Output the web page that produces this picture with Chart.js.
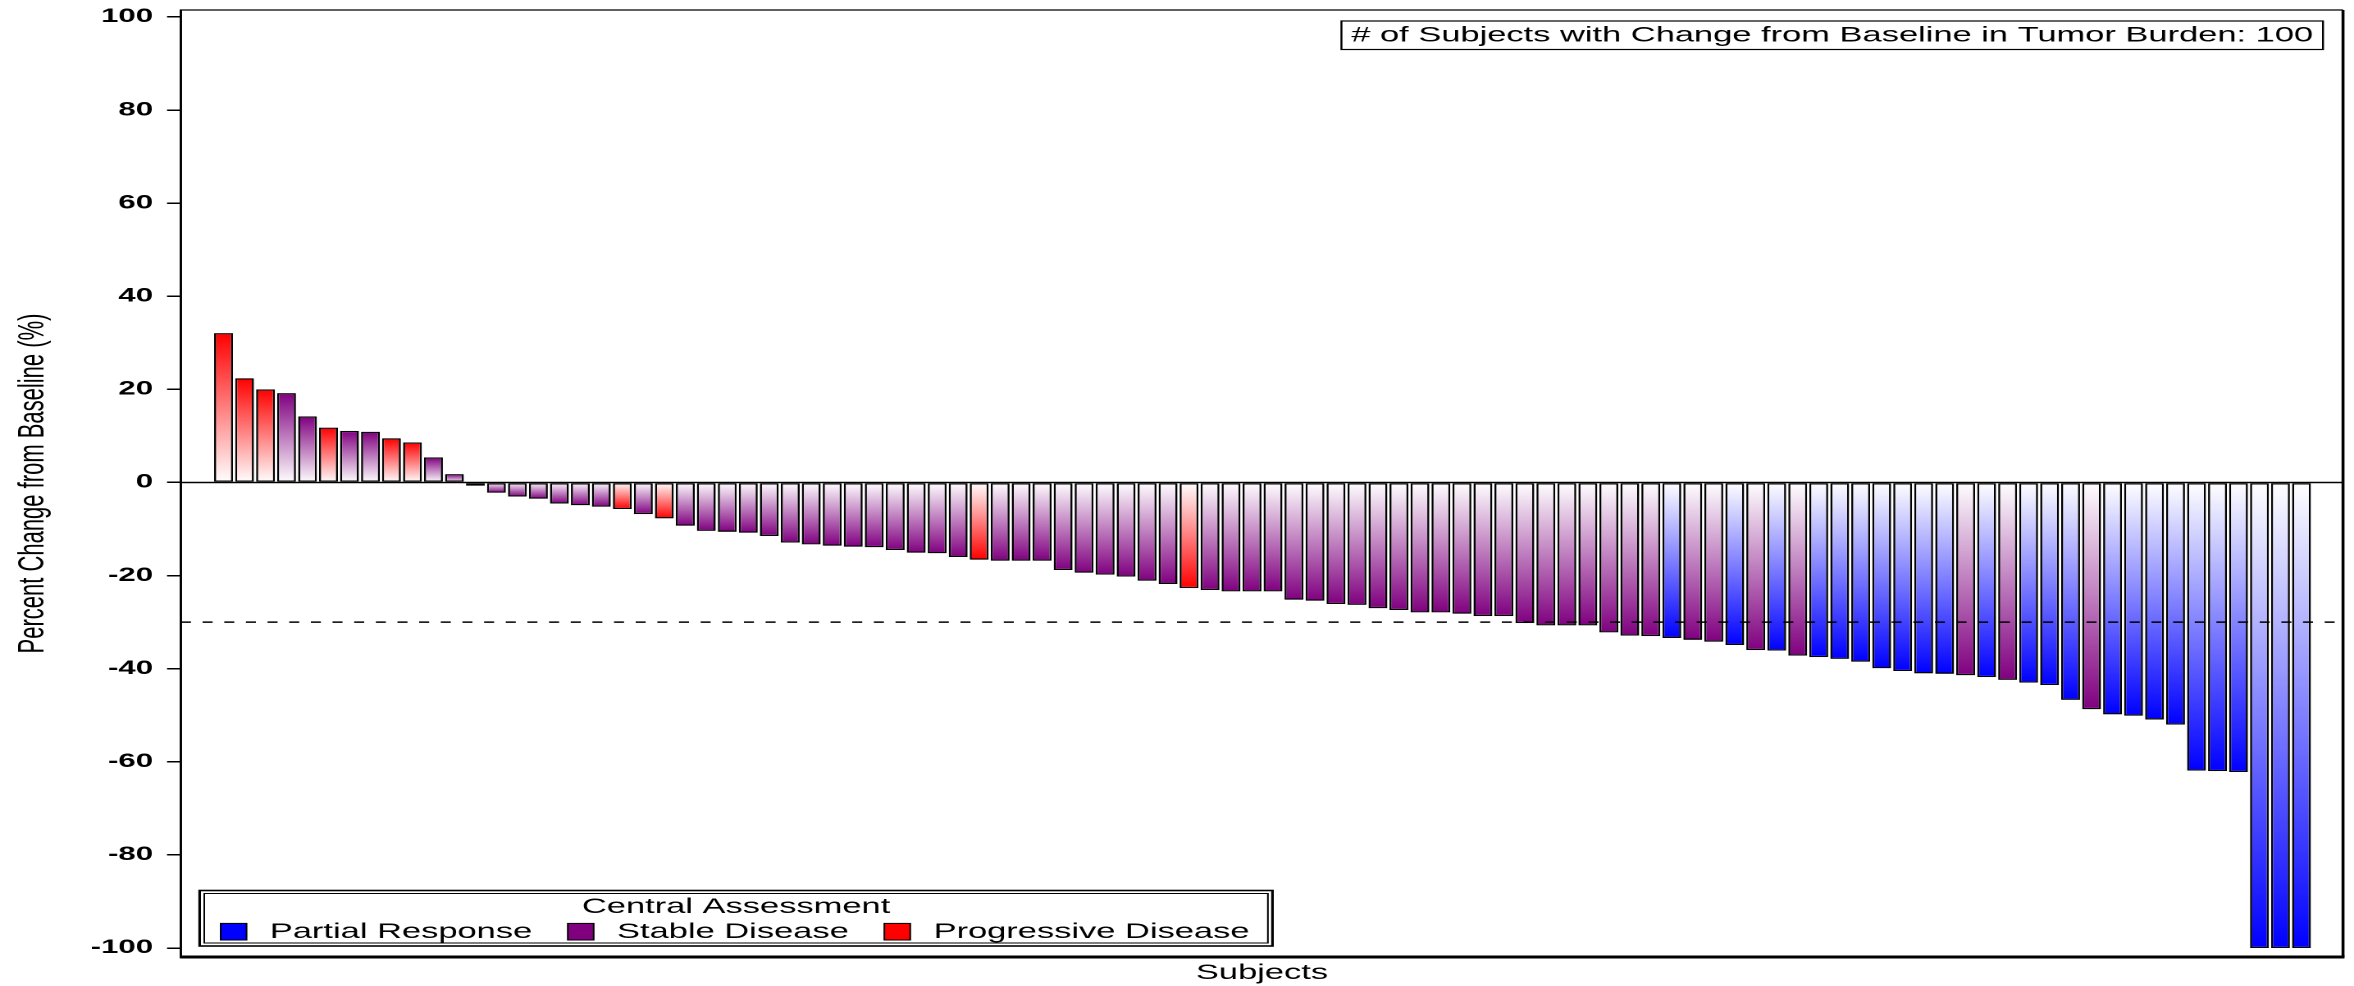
<!DOCTYPE html>
<html>
<head>
<meta charset="utf-8">
<script src="https://cdn.jsdelivr.net/npm/chart.js@4.4.1/dist/chart.umd.min.js"></script>
<style>
  html, body { margin: 0; padding: 0; background: #fff; overflow: hidden; }
  /* the plot is laid out on a narrower canvas and widened horizontally */
  #wrap { width: 1435px; height: 986px; transform: scaleX(1.640418); transform-origin: 0 0; }
  canvas { display: block; }
</style>
</head>
<body>
<div id="wrap"><canvas id="waterfall" width="1435" height="986" style="width:1435px;height:986px"></canvas></div>
<script>
// Subjects ordered by best percent change from baseline in tumor burden
const subjects = Array.from({ length: 100 }, (_, i) => i + 1);

const pctChange = [
  32.1, 22.4, 20.0, 19.2, 14.2, 11.8, 11.1, 10.9, 9.5, 8.6,
  5.4, 1.8, -0.7, -2.2, -3.0, -3.5, -4.5, -4.9, -5.2, -5.7,
  -6.8, -7.7, -9.3, -10.4, -10.6, -10.8, -11.5, -12.9, -13.3, -13.6,
  -13.8, -13.9, -14.5, -15.1, -15.2, -16.0, -16.6, -16.8, -16.8, -16.8,
  -18.8, -19.4, -19.8, -20.2, -21.1, -21.8, -22.7, -23.1, -23.4, -23.4,
  -23.4, -25.2, -25.4, -26.1, -26.3, -27.0, -27.4, -27.9, -27.9, -28.2,
  -28.7, -28.7, -30.2, -30.7, -30.7, -30.7, -32.2, -32.9, -33.0, -33.4,
  -33.8, -34.2, -34.9, -36.0, -36.1, -37.2, -37.5, -37.9, -38.5, -39.9,
  -40.5, -41.0, -41.1, -41.4, -41.8, -42.4, -43.0, -43.5, -46.7, -48.7,
  -49.8, -50.1, -50.9, -52.0, -61.9, -62.0, -62.2, -100, -100, -100
];

// Central assessment of best overall response per subject
const responses = [
  'PD','PD','PD','SD','SD','PD','SD','SD','PD','PD',
  'SD','SD','SD','SD','SD','SD','SD','SD','SD','PD',
  'SD','PD','SD','SD','SD','SD','SD','SD','SD','SD',
  'SD','SD','SD','SD','SD','SD','PD','SD','SD','SD',
  'SD','SD','SD','SD','SD','SD','PD','SD','SD','SD',
  'SD','SD','SD','SD','SD','SD','SD','SD','SD','SD',
  'SD','SD','SD','SD','SD','SD','SD','SD','SD','PR',
  'SD','SD','PR','SD','PR','SD','PR','PR','PR','PR',
  'PR','PR','PR','SD','PR','SD','PR','PR','PR','SD',
  'PR','PR','PR','PR','PR','PR','PR','PR','PR','PR'
];

const legendOrder = ['PR', 'SD', 'PD'];
const responseLabels = { PR: 'Partial Response', SD: 'Stable Disease', PD: 'Progressive Disease' };
const responseColors = { PR: '#0000ff', SD: '#800080', PD: '#ff0000' };
const legendTitle = 'Central Assessment';
const countText = '# of Subjects with Change from Baseline in Tumor Burden: ' + subjects.length;

const yTicks = [-100, -80, -60, -40, -20, 0, 20, 40, 60, 80, 100];
const prThreshold = -30;

const FONT = "'Liberation Sans', Arial, Helvetica, sans-serif";

// each bar fades from white at the baseline to its response colour at the tip
function barFill(ctx) {
  const code = responses[ctx.dataIndex];
  const color = responseColors[code] || '#800080';
  const chart = ctx.chart;
  const y = chart.scales && chart.scales.y;
  if (ctx.type !== 'data' || !y) return color;
  const v = ctx.raw.y;
  const y0 = y.getPixelForValue(0);
  const y1 = y.getPixelForValue(v);
  if (!isFinite(y0) || !isFinite(y1) || Math.abs(y1 - y0) < 0.5) return color;
  const g = chart.ctx.createLinearGradient(0, y0, 0, y1);
  g.addColorStop(0, '#ffffff');
  g.addColorStop(1, color);
  return g;
}

const overlay = {
  id: 'overlay',
  beforeDatasetsDraw(chart) {
    const { ctx, chartArea: a, scales: { y } } = chart;
    const y0 = y.getPixelForValue(0);
    ctx.save();
    ctx.strokeStyle = '#000';
    ctx.lineWidth = 1.5;
    ctx.beginPath();
    ctx.moveTo(a.left, y0);
    ctx.lineTo(a.right, y0);
    ctx.stroke();
    ctx.restore();
  },
  afterDatasetsDraw(chart) {
    const { ctx, chartArea: a, scales: { y } } = chart;
    const yt = y.getPixelForValue(prThreshold);
    ctx.save();
    ctx.strokeStyle = '#000';
    ctx.lineWidth = 1.5;
    ctx.setLineDash([6.1, 7.1]);
    ctx.beginPath();
    ctx.moveTo(a.left, yt);
    ctx.lineTo(a.right, yt);
    ctx.stroke();
    ctx.restore();
  },
  afterDraw(chart) {
    const { ctx, chartArea: a } = chart;
    ctx.save();
    ctx.strokeStyle = '#000';

    // plot frame
    ctx.lineWidth = 1.3;
    ctx.beginPath();
    ctx.moveTo(a.left, a.bottom);
    ctx.lineTo(a.left, a.top);
    ctx.lineTo(a.right, a.top);
    ctx.stroke();
    ctx.lineWidth = 1.8;
    ctx.beginPath();
    ctx.moveTo(a.right, a.top);
    ctx.lineTo(a.right, a.bottom);
    ctx.stroke();
    ctx.lineWidth = 3;
    ctx.beginPath();
    ctx.moveTo(a.left - 0.6, a.bottom);
    ctx.lineTo(a.right + 0.9, a.bottom);
    ctx.stroke();

    // subject count box, top right
    ctx.font = '21px ' + FONT;
    ctx.fillStyle = '#000';
    ctx.textBaseline = 'middle';
    ctx.textAlign = 'center';
    const tw = ctx.measureText(countText).width;
    const bw = tw + 12, bh = 28.5;
    const bx = a.right - 12.2 - bw, by = a.top + 11;
    ctx.fillStyle = '#fff';
    ctx.fillRect(bx, by, bw, bh);
    ctx.fillStyle = '#000';
    ctx.lineWidth = 1.2;
    ctx.strokeRect(bx, by, bw, bh);
    ctx.fillText(countText, bx + bw / 2, by + bh / 2 + 0.5);

    // legend, bottom left
    const lx = 121.7, ly = 890.5, lw = 654, lh = 55.5;
    ctx.fillStyle = '#fff';
    ctx.fillRect(lx, ly, lw, lh);
    ctx.lineWidth = 1.6;
    ctx.strokeRect(lx, ly, lw, lh);
    ctx.lineWidth = 1;
    ctx.strokeRect(lx + 2.8, ly + 3, lw - 5.6, lh - 6);
    ctx.fillStyle = '#000';
    ctx.fillText(legendTitle, lx + lw / 2, 907);

    ctx.textAlign = 'left';
    let x = 134.5;
    const rowY = 931.7;
    legendOrder.forEach((code) => {
      ctx.fillStyle = responseColors[code];
      ctx.fillRect(x, rowY - 8.3, 15.8, 16.6);
      ctx.lineWidth = 1;
      ctx.strokeStyle = '#000';
      ctx.strokeRect(x, rowY - 8.3, 15.8, 16.6);
      ctx.fillStyle = '#000';
      const tx = x + 15.8 + 14.2;
      ctx.fillText(responseLabels[code], tx, rowY + 0.5);
      x = tx + ctx.measureText(responseLabels[code]).width + 21.7;
    });
    ctx.restore();
  }
};

new Chart(document.getElementById('waterfall'), {
  type: 'bar',
  data: {
    datasets: [{
      data: subjects.map((s, i) => ({ x: s, y: pctChange[i] })),
      backgroundColor: barFill,
      borderColor: '#000',
      borderWidth: 1.3,
      borderSkipped: false,
      barPercentage: 0.9,
      categoryPercentage: 1.0
    }]
  },
  options: {
    responsive: false,
    animation: false,
    devicePixelRatio: 2,
    layout: { padding: { left: 0, right: 6.7, top: 10, bottom: 0 } },
    plugins: { legend: { display: false }, tooltip: { enabled: false } },
    scales: {
      x: {
        type: 'linear',
        min: -1.03,
        max: 101.98,
        offset: false,
        grid: { display: false },
        border: { display: false },
        ticks: { display: false },
        title: {
          display: true,
          text: 'Subjects',
          color: '#000',
          font: { family: FONT, size: 21 },
          padding: { top: 0, bottom: 0.4 }
        },
        afterFit(scale) {
          scale.height = 29;
          scale.paddingLeft = 0;
          scale.paddingRight = 0;
        }
      },
      y: {
        min: -101.93,
        max: 101.5,
        afterBuildTicks(scale) { scale.ticks = yTicks.map((v) => ({ value: v })); },
        grid: { drawOnChartArea: false, drawTicks: true, tickLength: 8.5, color: '#000', lineWidth: 1.5 },
        border: { display: true, color: '#000', width: 1.3 },
        ticks: {
          padding: 8.5,
          color: '#000',
          font: { family: FONT, size: 19, weight: 'bold' }
        },
        title: {
          display: true,
          text: 'Percent Change from Baseline (%)',
          color: '#000',
          font: { family: FONT, size: 22 },
          padding: { top: 7, bottom: 0 }
        },
        afterFit(scale) {
          scale.width = 110.3;
          scale.paddingTop = 0;
          scale.paddingBottom = 0;
        }
      }
    }
  },
  plugins: [overlay]
});
</script>
</body>
</html>
